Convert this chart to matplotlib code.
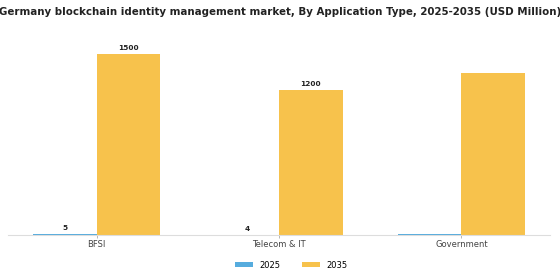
import matplotlib.pyplot as plt
import numpy as np

categories = ['BFSI', 'Telecom & IT', 'Government']
years = ['2025', '2035']
values_2025 = [5, 4, 4.5]
values_2035 = [1500, 1200, 1340]
shown_2025 = [True, True, False]
shown_2035 = [True, True, False]

colors = ['#56ACDE', '#F7C24C']

fig = plt.figure(figsize=(5.6, 2.8), dpi=100)
ax = fig.add_axes([8 / 560, 45 / 280, 542 / 560, 199 / 280])

x = np.arange(len(categories))
w = 0.35
b1 = ax.bar(x - w / 2, values_2025, w, color=colors[0], label=years[0])
b2 = ax.bar(x + w / 2, values_2035, w, color=colors[1], label=years[1])

for bars, show in ((b1, shown_2025), (b2, shown_2035)):
    for bar, s in zip(bars, show):
        if s:
            h = bar.get_height()
            ax.text(bar.get_x() + bar.get_width() / 2, h + 25, f'{h:g}',
                    ha='center', va='bottom', fontsize=5.3, fontweight='bold',
                    color='#222222')

ax.set_ylim(0, 1650)
ax.set_xticks(x)
ax.set_xticklabels(categories, fontsize=6, color='#444444')
ax.tick_params(axis='x', length=2, width=0.5, color='#999999', pad=1.5)
ax.set_yticks([])
for s in ['top', 'right', 'left']:
    ax.spines[s].set_visible(False)
ax.spines['bottom'].set_color('#dddddd')
ax.spines['bottom'].set_linewidth(0.8)

fig.suptitle('Germany blockchain identity management market, By Application Type, 2025-2035 (USD Million)',
             fontsize=7.4, fontweight='bold', x=0.5, y=0.975, color='#222222')

fig.legend(loc='lower center', bbox_to_anchor=(0.52, 0.01), ncol=2, frameon=False,
           fontsize=6, handlelength=2.2, handleheight=0.6, columnspacing=2.5)

fig.savefig('out.png', dpi=100)
